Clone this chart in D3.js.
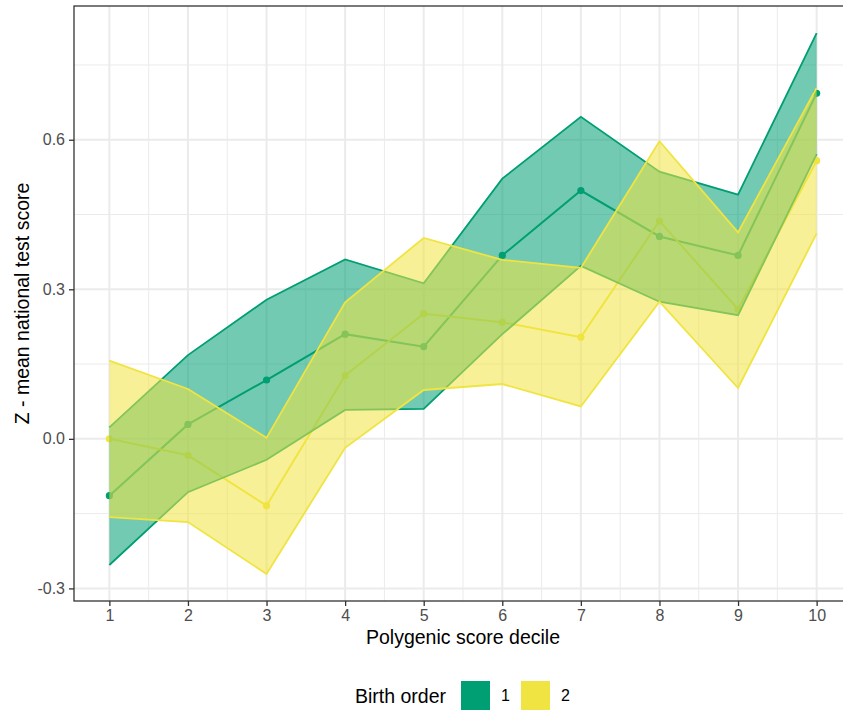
<!DOCTYPE html>
<html>
<head>
<meta charset="utf-8">
<script src="https://cdn.jsdelivr.net/npm/d3@7"></script>
<style>
  html, body { margin: 0; padding: 0; background: #ffffff; }
  svg { display: block; font-family: "Liberation Sans", Arial, sans-serif; }
</style>
</head>
<body>
<svg id="chart" width="843" height="713"></svg>
<script>
// Polygenic score decile on the x axis
const deciles = [1, 2, 3, 4, 5, 6, 7, 8, 9, 10];

// Birth order 1: mean and confidence band
const mean1 = [-0.114, 0.029, 0.118, 0.210, 0.185, 0.368, 0.498, 0.406, 0.368, 0.693];
const low1  = [-0.253, -0.107, -0.042, 0.058, 0.060, 0.210, 0.347, 0.275, 0.248, 0.571];
const high1 = [0.023, 0.168, 0.279, 0.360, 0.312, 0.522, 0.646, 0.536, 0.490, 0.814];

// Birth order 2: mean and confidence band
const mean2 = [0.000, -0.033, -0.134, 0.127, 0.251, 0.234, 0.204, 0.437, 0.260, 0.558];
const low2  = [-0.157, -0.167, -0.271, -0.018, 0.098, 0.110, 0.065, 0.275, 0.102, 0.412];
const high2 = [0.157, 0.100, 0.002, 0.274, 0.403, 0.359, 0.343, 0.597, 0.414, 0.704];

const groups = ["1", "2"];
const groupColours = ["#009E73", "#F0E442"];

const yTicks = [-0.3, 0.0, 0.3, 0.6];
const yTickLabels = ["-0.3", "0.0", "0.3", "0.6"];
const yMinor = [-0.15, 0.15, 0.45, 0.75];
const xMinor = [1.5, 2.5, 3.5, 4.5, 5.5, 6.5, 7.5, 8.5, 9.5];

const svg = d3.select("#chart");
const W = 843, H = 713;
const panel = { left: 74, top: 6, right: 852, bottom: 601 };

// ggplot-style 5% expansion on y, 0.45 units on the discrete-like x
const allVals = low1.concat(high1, low2, high2, mean1, mean2);
const yLo = d3.min(allVals), yHi = d3.max(allVals);
const yPad = (yHi - yLo) * 0.05;
const y = d3.scaleLinear().domain([yLo - yPad, yHi + yPad]).range([panel.bottom, panel.top]);
const x = d3.scaleLinear().domain([0.55, 10.45]).range([panel.left, panel.right]);

svg.append("rect").attr("width", W).attr("height", H).attr("fill", "#ffffff");

// grid
const grid = svg.append("g");
grid.selectAll(".ymin").data(yMinor).enter().append("line")
  .attr("x1", panel.left).attr("x2", panel.right)
  .attr("y1", d => y(d)).attr("y2", d => y(d))
  .attr("stroke", "#EBEBEB").attr("stroke-width", 1);
grid.selectAll(".xmin").data(xMinor).enter().append("line")
  .attr("y1", panel.top).attr("y2", panel.bottom)
  .attr("x1", d => x(d)).attr("x2", d => x(d))
  .attr("stroke", "#EBEBEB").attr("stroke-width", 1);
grid.selectAll(".ymaj").data(yTicks).enter().append("line")
  .attr("x1", panel.left).attr("x2", panel.right)
  .attr("y1", d => y(d)).attr("y2", d => y(d))
  .attr("stroke", "#EBEBEB").attr("stroke-width", 2);
grid.selectAll(".xmaj").data(deciles).enter().append("line")
  .attr("y1", panel.top).attr("y2", panel.bottom)
  .attr("x1", d => x(d)).attr("x2", d => x(d))
  .attr("stroke", "#EBEBEB").attr("stroke-width", 2);

const series = [
  { mean: mean1, low: low1, high: high1, colour: groupColours[0] },
  { mean: mean2, low: low2, high: high2, colour: groupColours[1] }
];

const lineGen = d3.line().x((d, i) => x(deciles[i])).y(d => y(d));
const areaGen = d3.area()
  .x(d => x(d.x)).y0(d => y(d.lo)).y1(d => y(d.hi));

const plot = svg.append("g");

// mean lines
series.forEach(s => {
  plot.append("path").datum(s.mean)
    .attr("d", lineGen).attr("fill", "none")
    .attr("stroke", s.colour).attr("stroke-width", 2);
});
// mean points
series.forEach(s => {
  plot.selectAll(null).data(s.mean).enter().append("circle")
    .attr("cx", (d, i) => x(deciles[i])).attr("cy", d => y(d))
    .attr("r", 3.6).attr("fill", s.colour);
});
// confidence ribbons, drawn over the lines and points
series.forEach(s => {
  const band = deciles.map((d, i) => ({ x: d, lo: s.low[i], hi: s.high[i] }));
  plot.append("path").datum(band)
    .attr("d", areaGen).attr("fill", s.colour).attr("fill-opacity", 0.55)
    .attr("stroke", "none");
  plot.append("path").datum(s.high)
    .attr("d", lineGen).attr("fill", "none")
    .attr("stroke", s.colour).attr("stroke-width", 1.8);
  plot.append("path").datum(s.low)
    .attr("d", lineGen).attr("fill", "none")
    .attr("stroke", s.colour).attr("stroke-width", 1.8);
});

// panel border
svg.append("rect")
  .attr("x", panel.left).attr("y", panel.top)
  .attr("width", panel.right - panel.left).attr("height", panel.bottom - panel.top)
  .attr("fill", "none").attr("stroke", "#333333").attr("stroke-width", 1.3);

// axes
const xAxis = svg.append("g")
  .attr("transform", `translate(0,${panel.bottom})`)
  .call(d3.axisBottom(x).tickValues(deciles).tickFormat(d3.format("d")).tickSize(5).tickPadding(4));
const yAxis = svg.append("g")
  .attr("transform", `translate(${panel.left},0)`)
  .call(d3.axisLeft(y).tickValues(yTicks).tickFormat((d, i) => yTickLabels[i]).tickSize(5).tickPadding(4));
[xAxis, yAxis].forEach(a => {
  a.select(".domain").remove();
  a.selectAll(".tick line").attr("stroke", "#333333").attr("stroke-width", 1.3);
  a.selectAll(".tick text").attr("fill", "#4D4D4D").attr("font-size", 16)
    .attr("font-family", "Liberation Sans, Arial, sans-serif");
});

// axis titles
svg.append("text")
  .attr("x", (panel.left + panel.right) / 2).attr("y", 644)
  .attr("text-anchor", "middle").attr("font-size", 19.5).attr("fill", "#000")
  .text("Polygenic score decile");
svg.append("text")
  .attr("transform", `translate(29,${(panel.top + panel.bottom) / 2}) rotate(-90)`)
  .attr("text-anchor", "middle").attr("font-size", 19.5).attr("fill", "#000")
  .text("Z - mean national test score");

// legend
const legend = svg.append("g");
legend.append("text").attr("x", 355).attr("y", 703)
  .attr("font-size", 19.5).attr("fill", "#000").text("Birth order");
const keyX = [461, 521];
groups.forEach((g, i) => {
  legend.append("rect").attr("x", keyX[i]).attr("y", 681)
    .attr("width", 29).attr("height", 29)
    .attr("fill", groupColours[i]);
  legend.append("text").attr("x", keyX[i] + 40).attr("y", 701)
    .attr("font-size", 16).attr("fill", "#000").text(g);
});
</script>
</body>
</html>
